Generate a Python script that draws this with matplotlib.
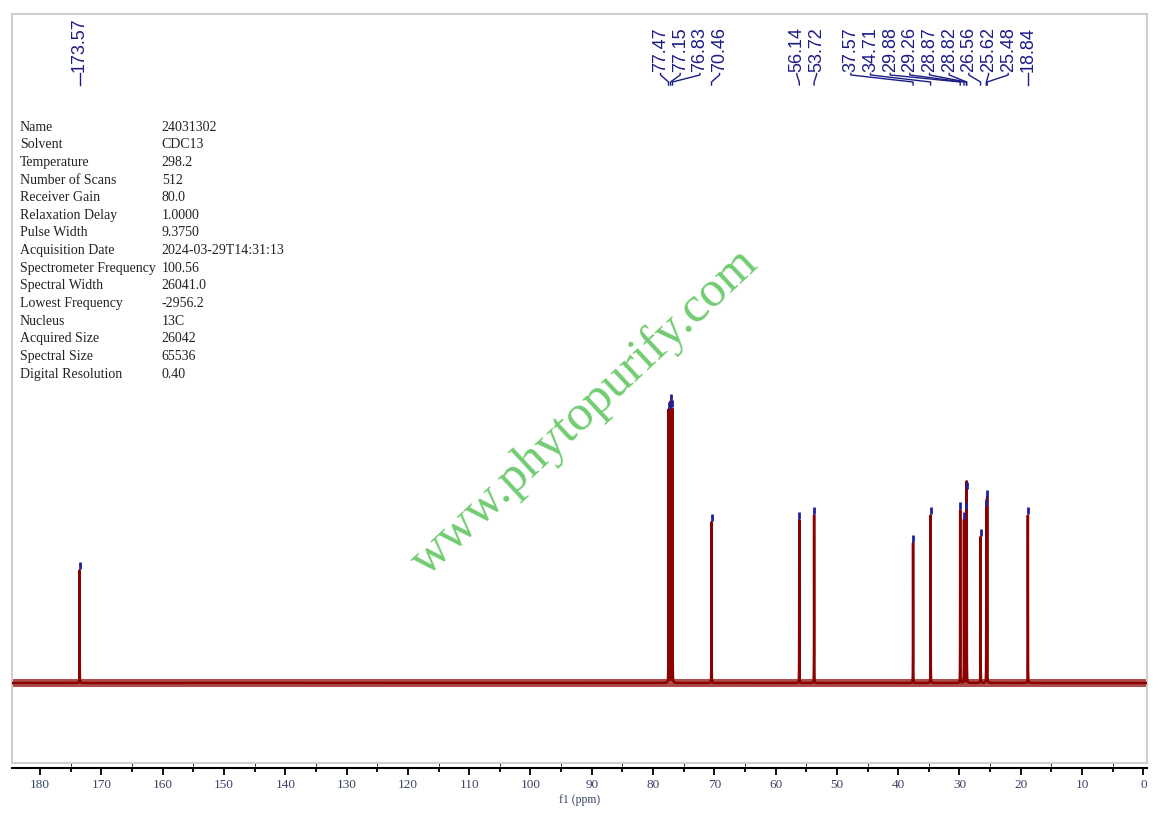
import matplotlib.pyplot as plt
import numpy as np
from matplotlib.ticker import MultipleLocator
from matplotlib.transforms import blended_transform_factory

# 13C peaks: chemical shift (ppm) and height (arbitrary units)
shifts = [173.57, 77.47, 77.15, 76.83, 70.46, 56.14, 53.72, 37.57, 34.71,
          29.88, 29.26, 28.87, 28.82, 26.56, 25.62, 25.48, 18.84]
heights = [113, 273, 281, 275, 161, 163, 168, 140, 168,
           173, 163, 173, 193, 146, 176, 185, 168]

param_names = ['Name', 'Solvent', 'Temperature', 'Number of Scans', 'Receiver Gain',
               'Relaxation Delay', 'Pulse Width', 'Acquisition Date',
               'Spectrometer Frequency', 'Spectral Width', 'Lowest Frequency',
               'Nucleus', 'Acquired Size', 'Spectral Size', 'Digital Resolution']
param_values = ['24031302', 'CDC13', '298.2', '512', '80.0', '1.0000', '9.3750',
                '2024-03-29T14:31:13', '100.56', '26041.0', '-2956.2', '13C',
                '26042', '65536', '0.40']

navy = '#1c1c86'
red = '#8b0000'
W, H = 1159, 817

fig = plt.figure(figsize=(W / 100, H / 100), dpi=100)
ax = fig.add_axes([12 / W, 1 - 763 / H, 1135 / W, 749 / H])

# lorentzian lines on a fine grid
ppm = np.linspace(184.6, -0.6, 100000)
lw_ppm = 0.012
spec = np.zeros_like(ppm)
for s, h in zip(shifts, heights):
    spec += h / (1 + ((ppm - s) / lw_ppm) ** 2)

# baseline noise band
ax.axhspan(-4, 4, color=red, alpha=0.7, lw=0, zorder=2)
ax.plot(ppm, spec, color=red, lw=1.8, zorder=3)
for s, h in zip(shifts, heights):
    ax.plot([s, s], [h + 1, h + 8], color='#2020a0', lw=2, solid_capstyle='butt', zorder=4)

ax.set_xlim(184.6, -0.6)
ax.set_ylim(-80, 669)
for sp in ax.spines.values():
    sp.set_color('#cfcfcf')
    sp.set_linewidth(1.5)
ax.tick_params(left=False, bottom=False, labelleft=False, labelbottom=False)

# peak labels, spread out in groups
trans = blended_transform_factory(ax.transData, ax.transAxes)
gap = 3.21
order = sorted(range(len(shifts)), key=lambda i: shifts[i])
groups = []
for i in order:
    if groups and shifts[i] - shifts[groups[-1][-1]] < 6.5:
        groups[-1].append(i)
    else:
        groups.append([i])
label_x = {}
prev_top = -np.inf
for g in groups:
    lo, hi = shifts[g[0]], shifts[g[-1]]
    start = (lo + hi) / 2 - (len(g) - 1) * gap / 2
    start = max(start, prev_top + gap)
    for k, i in enumerate(g):
        label_x[i] = start + k * gap
    prev_top = start + (len(g) - 1) * gap

y_txt, y1, y2, y3 = 0.9226, 0.9186, 0.9092, 0.9052
for i, s in enumerate(shifts):
    lx = label_x[i]
    ax.text(lx, y_txt, f'{s:.2f}', transform=trans, rotation=90, ha='center',
            va='bottom', color=navy, fontsize=13, family='Liberation Sans')
    ax.plot([lx, lx, s, s], [y_txt - 0.002, y1, y2, y3], transform=trans,
            color=navy, lw=1, clip_on=False)

# acquisition parameters
for k, (n, v) in enumerate(zip(param_names, param_values)):
    y = 0.849 - k * 0.02355
    ax.text(0.007, y, n, transform=ax.transAxes, va='center', fontsize=10,
            family='Liberation Serif', color='#222222')
    ax.text(0.132, y, v, transform=ax.transAxes, va='center', fontsize=10,
            family='Liberation Serif', color='#222222')

# watermark
ax.text(0.5048, 0.4686, 'www.phytopurify.com', transform=ax.transAxes,
        rotation=43, ha='center', va='center', fontsize=36.5,
        family='Liberation Serif', color='#72cc72', zorder=1)

# separate ppm axis below the box
axb = fig.add_axes([12 / W, 1 - 768 / H, 1135 / W, 1e-4], sharex=ax)
axb.patch.set_visible(False)
for side in ['left', 'right', 'top']:
    axb.spines[side].set_visible(False)
axb.spines['bottom'].set_linewidth(1.5)
axb.yaxis.set_visible(False)
axb.xaxis.set_major_locator(MultipleLocator(10))
axb.xaxis.set_minor_locator(MultipleLocator(5))
axb.tick_params(axis='x', which='major', direction='out', length=5, width=1.3,
                labelsize=9.5, labelcolor='#3a4466', pad=3)
axb.tick_params(axis='x', which='minor', direction='out', length=3, width=1.3)
for t in axb.get_xticklabels():
    t.set_family('Liberation Serif')
axb.set_xlabel('f1 (ppm)', fontsize=8.5, family='Liberation Serif',
               color='#3a4466', labelpad=2)

fig.savefig('out.png', dpi=100)
